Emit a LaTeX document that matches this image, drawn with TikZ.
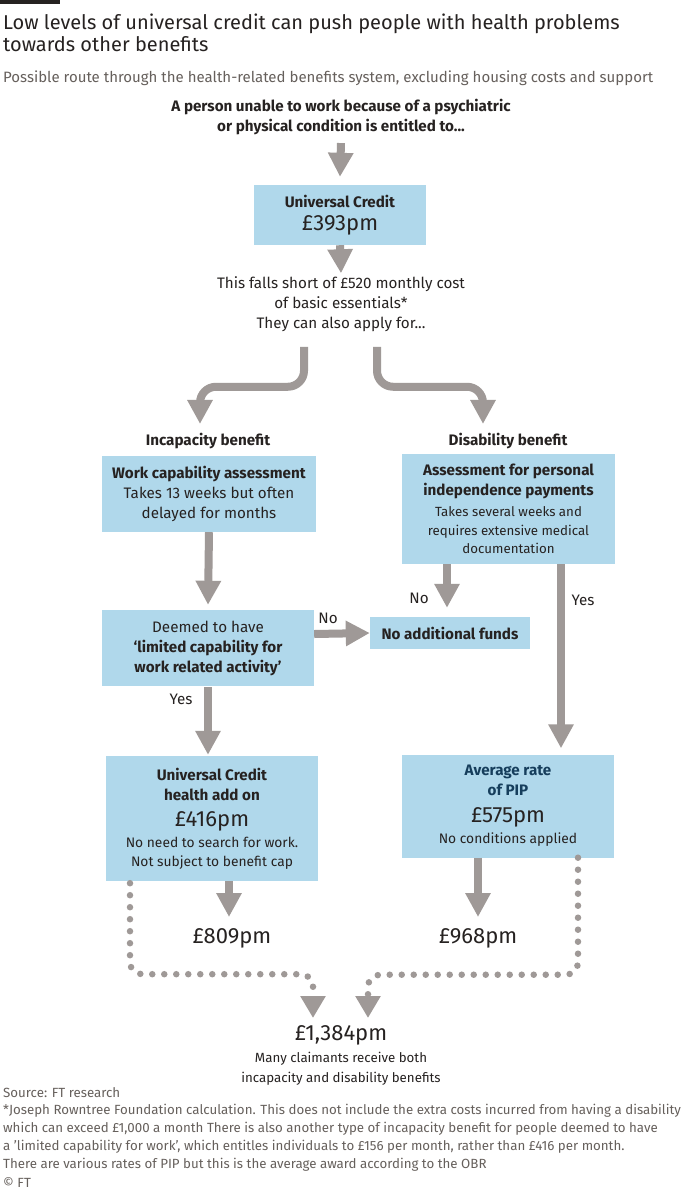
\documentclass[tikz,border=0pt]{standalone}
\usepackage{fontspec}
\setmainfont{Fira Sans}
\usetikzlibrary{arrows.meta}

\definecolor{ftblue}{RGB}{176,216,235}
\definecolor{ftgrey}{RGB}{159,153,151}
\definecolor{ftink}{RGB}{38,34,33}
\definecolor{ftnote}{RGB}{102,96,92}
\definecolor{ftnavy}{RGB}{22,62,92}

\begin{document}
\begin{tikzpicture}
[every node/.style={inner sep=0pt, text=ftink},
 box/.style={rectangle, fill=ftblue, align=center},
 bigarrow/.style={line width=8pt, color=ftgrey, -{Triangle[width=24pt, length=24pt]}},
 dotline/.style={line width=6.5pt, color=ftgrey, line cap=round, dash pattern=on 0pt off 12pt, rounded corners=12pt, -{Triangle[width=24pt, length=22pt]}},
 body/.style={font=\fontsize{15.2}{20}\selectfont, align=center},
 bold/.style={font=\fontsize{15.2}{20}\selectfont\bfseries, align=center},
 small/.style={font=\fontsize{13.3}{20}\selectfont, align=center},
 money/.style={font=\fontsize{22}{26}\selectfont},
 note/.style={font=\fontsize{13.3}{18}\selectfont, text=ftnote, anchor=west}]
\useasboundingbox (0pt, 0pt) rectangle (700pt, -1192pt);
\fill [white] (0pt, 0pt) rectangle (700pt, -1192pt);
\fill [ftink] (0pt, 0pt) rectangle (60pt, -4pt);
% heading
\node (title) [anchor=north west, align=left, font=\fontsize{20}{22}\selectfont] at (3pt, -14pt) {Low levels of universal credit can push people with health problems\\towards other benefits};
\node (sub) [anchor=west, font=\fontsize{15}{18}\selectfont, text=ftnote] at (3pt, -78pt) {Possible route through the health-related benefits system, excluding housing costs and support};
% flow
\node (top) [bold] at (341pt, -117pt) {A person unable to work because of a psychiatric\\or physical condition is entitled to...};
\node (uc) [box, body, minimum width=172pt, minimum height=60pt] at (340pt, -215pt) {\textbf{Universal Credit}\\[3pt]{\fontsize{22}{24}\selectfont £393pm}};
\node (short) [body] at (341pt, -304pt) {This falls short of £520 monthly cost\\of basic essentials*\\They can also apply for...};
\node (inc) [bold] at (208pt, -441pt) {Incapacity benefit};
\node (dis) [bold] at (508pt, -441pt) {Disability benefit};
\node (wca) [box, body, minimum width=214pt, minimum height=76pt] at (209pt, -494pt) {\textbf{Work capability assessment}\\Takes 13 weeks but often\\delayed for months};
\node (pipa) [box, body, minimum width=213pt, minimum height=110pt] at (508.5pt, -509pt) {\textbf{Assessment for personal}\\\textbf{independence payments}\\[1pt]{\fontsize{13.3}{18}\selectfont Takes several weeks and}\\[-1pt]{\fontsize{13.3}{18}\selectfont requires extensive medical}\\[-2pt]{\fontsize{13.3}{18}\selectfont documentation}};
\node (deemed) [box, body, minimum width=212pt, minimum height=76pt] at (208pt, -648pt) {Deemed to have\\\textbf{‘limited capability for}\\\textbf{work related activity’}};
\node (nofunds) [box, bold, minimum width=160pt, minimum height=32pt] at (450pt, -633pt) {No additional funds};
\node (addon) [box, body, minimum width=212pt, minimum height=125pt] at (212pt, -818.5pt) {\textbf{Universal Credit}\\\textbf{health add on}\\[6pt]{\fontsize{22}{24}\selectfont £416pm}\\[1pt]{\fontsize{13.8}{18}\selectfont No need to search for work.}\\[-1pt]{\fontsize{13.8}{18}\selectfont Not subject to benefit cap}};
\node (rate) [box, body, minimum width=212pt, minimum height=103pt] at (508pt, -806pt) {\textcolor{ftnavy}{\textbf{Average rate}}\\\textcolor{ftnavy}{\textbf{of PIP}}\\[7pt]{\fontsize{22}{24}\selectfont £575pm}\\[1pt]{\fontsize{13.8}{18}\selectfont No conditions applied}};
\node (p809) [money] at (232pt, -938pt) {£809pm};
\node (p968) [money] at (478pt, -938pt) {£968pm};
\node (both) [money] at (341pt, -1035pt) {£1,384pm};
\node (bothtxt) [small, anchor=north] at (341pt, -1052pt) {Many claimants receive both\\incapacity and disability benefits};
% yes / no
\node (no1) [body] at (328pt, -618pt) {No};
\node (no2) [body] at (419pt, -598pt) {No};
\node (yes1) [body] at (583pt, -600pt) {Yes};
\node (yes2) [body] at (181pt, -699pt) {Yes};
% connectors
\draw [bigarrow] ([yshift=-8pt]top.south) -- ([yshift=8pt]uc.north);
\draw [bigarrow] (uc.south) -- ([yshift=3pt]short.north);
\draw [bigarrow, rounded corners=16pt] ([xshift=-37pt, yshift=-15pt]short.south) -- ++(0pt, -40pt) -| ([xshift=-8pt, yshift=9pt]inc.north);
\draw [bigarrow, rounded corners=16pt] ([xshift=36pt, yshift=-15pt]short.south) -- ++(0pt, -40pt) -| ([xshift=-25pt, yshift=9pt]dis.north);
\draw [bigarrow] (wca.south) -- ([yshift=5pt]deemed.north);
\draw [bigarrow] ([yshift=14pt]deemed.east) -- (nofunds.west);
\draw [bigarrow] ([xshift=-61.5pt]pipa.south) -- ([xshift=-3pt, yshift=9pt]nofunds.north);
\draw [bigarrow] ([xshift=52.5pt]pipa.south) -- ([xshift=53pt, yshift=6pt]rate.north);
\draw [bigarrow] ([yshift=-1pt]deemed.south) -- ([xshift=-4pt, yshift=1pt]addon.north);
\draw [bigarrow] ([xshift=17pt]addon.south) -- ([xshift=-3pt, yshift=11pt]p809.north);
\draw [bigarrow] ([xshift=-30pt]rate.south) -- ([yshift=11pt]p968.north);
\draw [dotline] ([xshift=-82pt, yshift=-2pt]addon.south) -- ++(0pt, -91pt) -| ([xshift=-28pt, yshift=7pt]both.north);
\draw [dotline] ([xshift=70pt]rate.south) -- ++(0pt, -117pt) -| ([xshift=27pt, yshift=7pt]both.north);
% notes
\node (src) [note] at (3pt, -1093pt) {Source: FT research};
\node (fn1) [note] at (3pt, -1111pt) {*Joseph Rowntree Foundation calculation. This does not include the extra costs incurred from having a disability};
\node (fn2) [note] at (3pt, -1129pt) {which can exceed £1,000 a month There is also another type of incapacity benefit for people deemed to have};
\node (fn3) [note] at (3pt, -1147pt) {a 'limited capability for work', which entitles individuals to £156 per month, rather than £416 per month.};
\node (fn4) [note] at (3pt, -1165pt) {There are various rates of PIP but this is the average award according to the OBR};
\node (ft) [note] at (3pt, -1183pt) {© FT};
\end{tikzpicture}
\end{document}
